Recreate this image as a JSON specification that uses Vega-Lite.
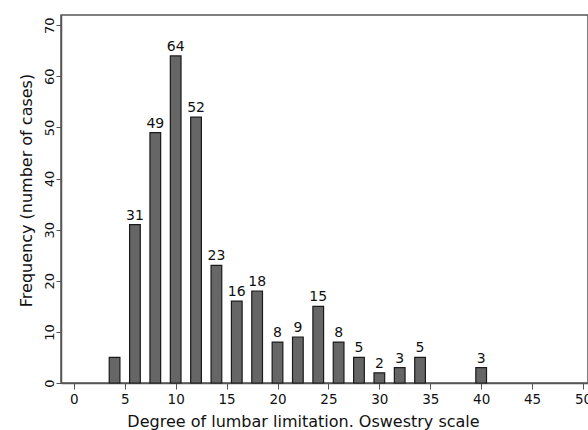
{
  "$schema": "https://vega.github.io/schema/vega-lite/v6.json",
  "autosize": {"type": "none"},
  "padding": {"left": 61, "top": 15, "right": 0, "bottom": 47},
  "width": 527,
  "height": 368,
  "background": "white",
  "config": {
    "font": "DejaVu Sans",
    "view": {"stroke": "#555555", "strokeWidth": 1.5}
  },
  "data": {
    "values": [
      {"score": 4, "freq": 5},
      {"score": 6, "freq": 31},
      {"score": 8, "freq": 49},
      {"score": 10, "freq": 64},
      {"score": 12, "freq": 52},
      {"score": 14, "freq": 23},
      {"score": 16, "freq": 16},
      {"score": 18, "freq": 18},
      {"score": 20, "freq": 8},
      {"score": 22, "freq": 9},
      {"score": 24, "freq": 15},
      {"score": 26, "freq": 8},
      {"score": 28, "freq": 5},
      {"score": 30, "freq": 2},
      {"score": 32, "freq": 3},
      {"score": 34, "freq": 5},
      {"score": 40, "freq": 3}
    ]
  },
  "encoding": {
    "x": {
      "field": "score",
      "type": "quantitative",
      "scale": {"domain": [-0.77, 50], "nice": false, "zero": false},
      "axis": {
        "values": [0, 5, 10, 15, 20, 25, 30, 35, 40, 45, 50],
        "grid": false,
        "title": "Degree of lumbar limitation. Oswestry scale",
        "titleFont": "DejaVu Sans",
        "titleFontSize": 16,
        "titleFontWeight": "normal",
        "titleColor": "#111111",
        "titlePadding": 8,
        "titleX": 242,
        "titleAlign": "center",
        "labelFont": "DejaVu Sans",
        "labelFontSize": 13.5,
        "labelColor": "#111111",
        "labelPadding": 3,
        "tickSize": 6,
        "tickColor": "#555555",
        "domainColor": "#555555",
        "domainWidth": 1.5,
        "labelFlush": false,
        "labelOverlap": false
      }
    },
    "y": {
      "field": "freq",
      "type": "quantitative",
      "scale": {"domain": [0, 72], "nice": false},
      "axis": {
        "values": [0, 10, 20, 30, 40, 50, 60, 70],
        "grid": false,
        "title": "Frequency (number of cases)",
        "titleFont": "DejaVu Sans",
        "titleFontSize": 16,
        "titleFontWeight": "normal",
        "titleColor": "#111111",
        "titlePadding": 9,
        "titleY": 175,
        "titleAlign": "center",
        "labelFont": "DejaVu Sans",
        "labelAngle": -90,
        "labelAlign": "center",
        "labelBaseline": "bottom",
        "labelFontSize": 13,
        "labelColor": "#111111",
        "labelPadding": 0,
        "tickSize": 5,
        "tickColor": "#555555",
        "domainColor": "#555555",
        "domainWidth": 1.5,
        "labelFlush": false,
        "labelOverlap": false
      }
    }
  },
  "layer": [
    {
      "mark": {"type": "bar", "size": 10.7, "fill": "#666666", "stroke": "#1a1a1a", "strokeWidth": 1.2}
    },
    {
      "transform": [{"filter": "datum.score > 4"}],
      "mark": {"type": "text", "baseline": "alphabetic", "dy": -5, "fontSize": 14, "font": "DejaVu Sans", "color": "#111111"},
      "encoding": {"text": {"field": "freq", "type": "quantitative"}}
    }
  ]
}
